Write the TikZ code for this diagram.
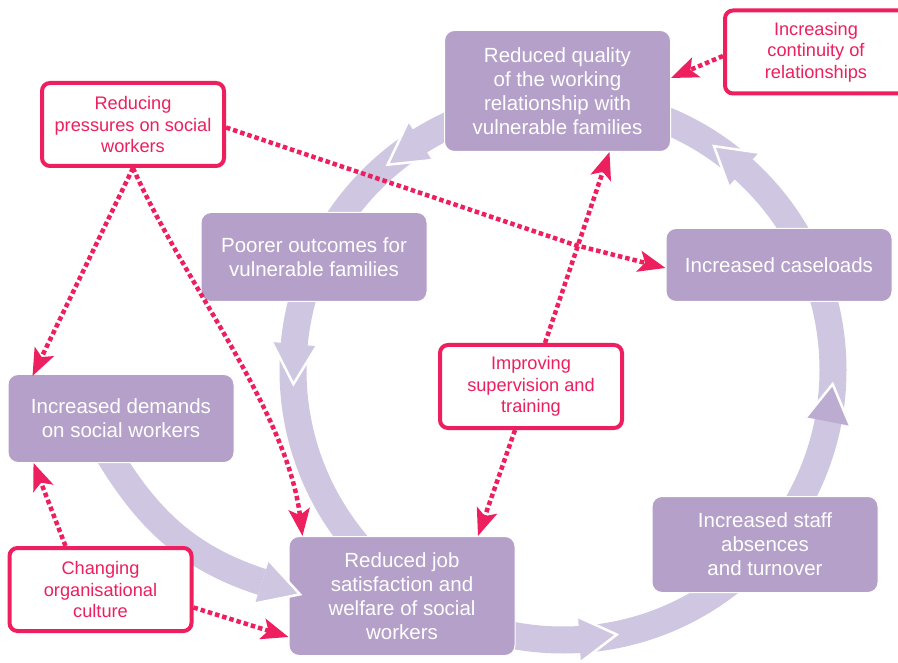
\documentclass[tikz,border=0pt]{standalone}
\usepackage{fontspec}
\setmainfont{Liberation Sans}
\usetikzlibrary{arrows.meta,calc}
\definecolor{boxpurple}{RGB}{180,160,201}
\definecolor{bandpurple}{RGB}{207,198,225}
\definecolor{headpurple}{RGB}{188,172,210}
\definecolor{pinkred}{RGB}{237,31,94}

\begin{document}
\begin{tikzpicture}[x=1pt, y=-1pt,
  cycbox/.style={fill=boxpurple, draw=white, line width=1pt, rounded corners=10pt, text=white, align=center, minimum width=226pt, inner sep=0pt, font=\fontsize{20.5}{24}\selectfont},
  fixbox/.style={fill=white, draw=pinkred, line width=4pt, rounded corners=8pt, text=pinkred, align=center, minimum width=182pt, minimum height=83pt, inner sep=0pt, font=\fontsize{18.2}{21.5}\selectfont},
  fixarrow/.style={draw=pinkred, line width=4.5pt, dash pattern=on 4.5pt off 3pt, -{Stealth[length=27pt,width=21pt,inset=6pt]}},
  band/.style={draw=bandpurple, line width=27pt}]
\useasboundingbox (0,0) rectangle (898,663);
\fill[white] (0,0) rectangle (898,663);
%cycle band:
\coordinate (O) at (563,370);
\draw[band] (O) circle (270);
%band from demands to job satisfaction:
\draw[band] (100,440) to[out=-60,in=162] (262,582);
\coordinate (dh) at (262,582);
%cycle boxes:
\node[cycbox, minimum height=121pt] (rq) at (557.5,91) {Reduced quality\\of the working\\relationship with\\vulnerable families};
\node[cycbox, minimum height=89pt] (po) at (314,257) {Poorer outcomes for\\vulnerable families};
\node[cycbox, minimum height=73pt] (ic) at (779,265) {Increased caseloads};
\node[cycbox, minimum height=88pt] (id) at (121,418.5) {Increased demands\\on social workers};
\node[cycbox, minimum height=119pt] (js) at (402,596) {Reduced job\\satisfaction and\\welfare of social\\workers};
\node[cycbox, minimum height=96pt] (sa) at (765,544.5) {Increased staff\\absences\\and turnover};
%band heads:
\foreach \b/\t/\c in {238/229.5/bandpurple, 185.5/177/bandpurple, 86.5/78.5/bandpurple, 11/3/headpurple, 312/304/bandpurple}{
  \fill[\c] ($(O)+(\b:247.5)$) -- ($(O)+(\t:270)$) -- ($(O)+(\b:292.5)$) -- cycle;
  \draw[white, line width=2.5pt] ($(O)+(\b:247.5)$) -- ($(O)+(\t:270)$) -- ($(O)+(\b:292.5)$);
}
\fill[bandpurple] ($(dh)+(108:22.5)$) -- ($(dh)+(18:40)$) -- ($(dh)+(-72:22.5)$) -- cycle;
\draw[white, line width=2.5pt] ($(dh)+(108:22.5)$) -- ($(dh)+(18:40)$) -- ($(dh)+(-72:22.5)$);
%fixes:
\node[fixbox] (rp) at (133,124.5) {Reducing\\pressures on social\\workers};
\node[fixbox] (cr) at (816,52) {Increasing\\continuity of\\relationships};
\node[fixbox] (st) at (531,386.5) {Improving\\supervision and\\training};
\node[fixbox] (oc) at (100.5,589.5) {Changing\\organisational\\culture};
\coordinate (cross) at (575,245);
\draw[fixarrow] (rp.south) -- ($(id.north west)+(25,2)$);
\draw[fixarrow] (rp.south) to[out=-66,in=97,looseness=0.8] ($(js.north west)+(14,0)$);
\draw[fixarrow] ($(rp.east)+(0,3)$) -- (cross) -- ($(ic.west)+(0,3)$);
\draw[fixarrow] ($(st.north)+(14,0)$) -- ($(rq.south)+(52,0)$);
\draw[fixarrow] ($(st.south)+(-16,0)$) -- ($(js.north)+(76,0)$);
\draw[fixarrow] ($(oc.north)+(-35,0)$) -- ($(id.south west)+(26,0)$);
\draw[fixarrow] ($(oc.east)+(0,18)$) -- ($(js.west)+(0,41)$);
\draw[fixarrow] ($(cr.west)+(0,4)$) -- ($(rq.east)+(0,-13)$);
\end{tikzpicture}
\end{document}
